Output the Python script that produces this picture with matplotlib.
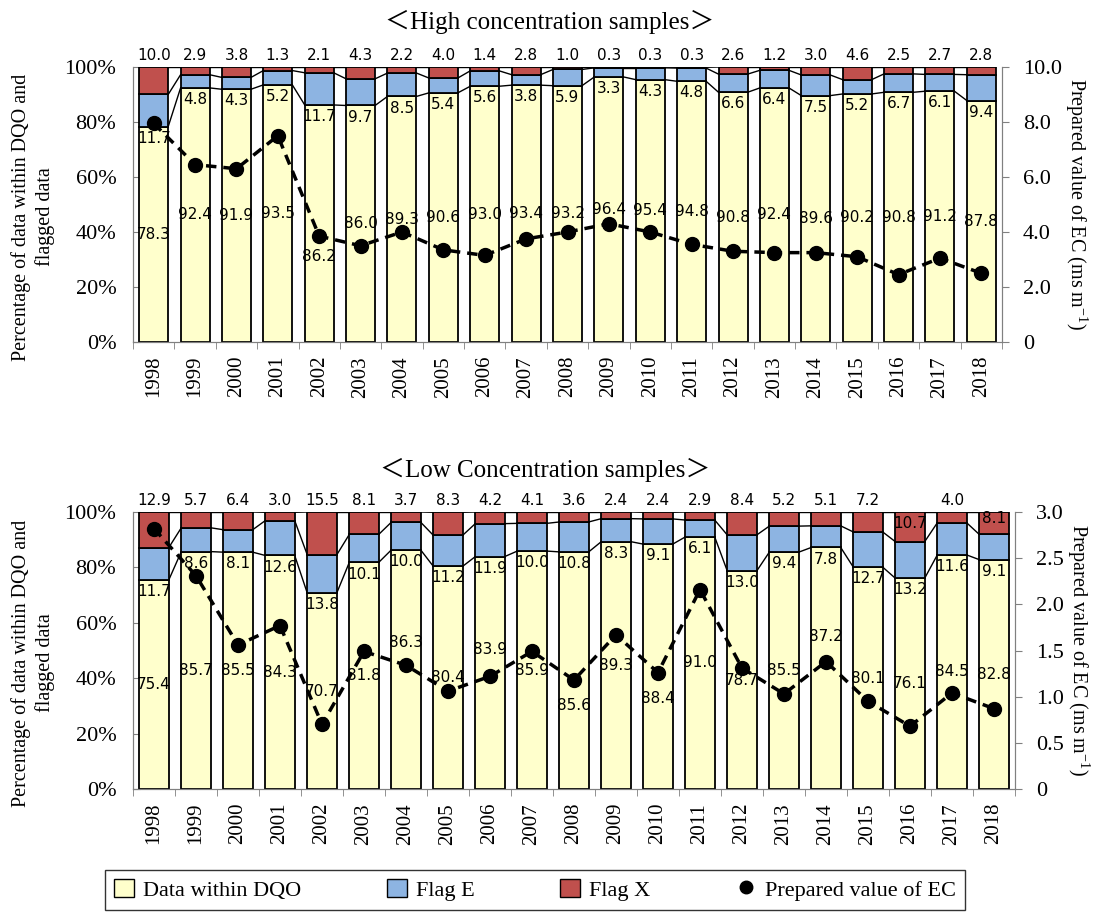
import numpy as np
import matplotlib
matplotlib.use('Agg')
import matplotlib.pyplot as plt
from matplotlib.patches import Patch
from matplotlib.lines import Line2D
from matplotlib.ticker import FuncFormatter, FixedLocator

years = [str(y) for y in range(1998, 2019)]

# High concentration samples (%)
dqo_high = [78.3, 92.4, 91.9, 93.5, 86.2, 86.0, 89.3, 90.6, 93.0, 93.4, 93.2,
            96.4, 95.4, 94.8, 90.8, 92.4, 89.6, 90.2, 90.8, 91.2, 87.8]
flag_e_high = [11.7, 4.8, 4.3, 5.2, 11.7, 9.7, 8.5, 5.4, 5.6, 3.8, 5.9,
               3.3, 4.3, 4.8, 6.6, 6.4, 7.5, 5.2, 6.7, 6.1, 9.4]
flag_x_high = [10.0, 2.9, 3.8, 1.3, 2.1, 4.3, 2.2, 4.0, 1.4, 2.8, 1.0,
               0.3, 0.3, 0.3, 2.6, 1.2, 3.0, 4.6, 2.5, 2.7, 2.8]
ec_high = [7.95, 6.45, 6.3, 7.5, 3.85, 3.5, 4.0, 3.35, 3.15, 3.75, 4.0,
           4.3, 4.0, 3.55, 3.3, 3.25, 3.25, 3.1, 2.45, 3.05, 2.5]

# Low concentration samples (%)
dqo_low = [75.4, 85.7, 85.5, 84.3, 70.7, 81.8, 86.3, 80.4, 83.9, 85.9, 85.6,
           89.3, 88.4, 91.0, 78.7, 85.5, 87.2, 80.1, 76.1, 84.5, 82.8]
flag_e_low = [11.7, 8.6, 8.1, 12.6, 13.8, 10.1, 10.0, 11.2, 11.9, 10.0, 10.8,
              8.3, 9.1, 6.1, 13.0, 9.4, 7.8, 12.7, 13.2, 11.6, 9.1]
flag_x_low = [12.9, 5.7, 6.4, 3.0, 15.5, 8.1, 3.7, 8.3, 4.2, 4.1, 3.6,
              2.4, 2.4, 2.9, 8.4, 5.2, 5.1, 7.2, 10.7, 4.0, 8.1]
ec_low = [2.82, 2.31, 1.56, 1.77, 0.70, 1.49, 1.34, 1.06, 1.22, 1.49, 1.18,
          1.67, 1.26, 2.16, 1.31, 1.03, 1.38, 0.95, 0.68, 1.04, 0.87]

# hand-moved data labels (index -> y in %)
dqo_label_y_high = {4: 31}
dqo_label_y_low = {6: 53, 8: 50.5, 10: 30, 12: 32.5, 16: 55}
x_label_in_low = {18: 96, 20: 97.5}

c_dqo = '#FFFFCC'
c_e = '#8DB4E2'
c_x = '#C0504D'
serif = 'Liberation Serif'
sans = 'DejaVu Sans'

plt.rcParams['font.family'] = serif
plt.rcParams['mathtext.fontset'] = 'stix'


def draw_panel(ax, dqo, fe, fx, ec, ec_max, ec_step, dqo_label_y, x_label_in):
    n = len(years)
    x = np.arange(n)
    w = 0.7
    dqo = np.array(dqo)
    fe = np.array(fe)
    fx = np.array(fx)
    ax.bar(x, dqo, w, color=c_dqo, edgecolor='black', linewidth=1.3, zorder=2)
    ax.bar(x, fe, w, bottom=dqo, color=c_e, edgecolor='black', linewidth=1.3, zorder=2)
    ax.bar(x, fx, w, bottom=dqo + fe, color=c_x, edgecolor='black', linewidth=1.3, zorder=2)

    # series lines between bars
    for tops in (dqo, dqo + fe, np.minimum(dqo + fe + fx, 100)):
        for i in range(n - 1):
            ax.plot([x[i] + w / 2, x[i + 1] - w / 2], [tops[i], tops[i + 1]],
                    color='black', lw=1.0, zorder=1)

    for i in range(n):
        ax.text(x[i], dqo_label_y.get(i, dqo[i] / 2), f'{dqo[i]:.1f}', ha='center',
                va='center', fontsize=11, family=sans, zorder=5)
        ax.annotate(f'{fe[i]:.1f}', (x[i], dqo[i]), xytext=(0, -3),
                    textcoords='offset points', ha='center', va='top',
                    fontsize=11, family=sans, zorder=5)
        if i in x_label_in:
            ax.text(x[i], x_label_in[i], f'{fx[i]:.1f}', ha='center', va='center',
                    fontsize=11, family=sans, zorder=5)
        else:
            ax.annotate(f'{fx[i]:.1f}', (x[i], 100), xytext=(0, 3),
                        textcoords='offset points', ha='center', va='bottom',
                        fontsize=11, family=sans, zorder=5)

    ax.set_xlim(-0.5, n - 0.5)
    ax.set_ylim(0, 100)
    ax.set_yticks(np.arange(0, 101, 20))
    ax.yaxis.set_major_formatter(FuncFormatter(lambda v, p: f'{v:.0f}%'))
    ax.tick_params(axis='y', direction='in', length=5, pad=12, labelsize=16,
                   color='#808080')
    ax.set_xticks(x)
    ax.set_xticklabels(years, rotation=90, fontsize=15)
    ax.tick_params(axis='x', which='major', length=0, pad=10)
    ax.xaxis.set_minor_locator(FixedLocator(np.arange(-0.5, n, 1)))
    ax.tick_params(axis='x', which='minor', direction='out', length=5,
                   color='#808080')
    ax.spines['top'].set_visible(False)
    for s in ('left', 'bottom', 'right'):
        ax.spines[s].set_color('#808080')

    ax2 = ax.twinx()
    ax2.plot(x, ec, color='black', lw=2.5, linestyle=(0, (3, 2)), marker='o',
             markersize=10, zorder=6)
    ax2.set_ylim(0, ec_max)
    ax2.set_yticks(np.arange(0, ec_max + 1e-9, ec_step))
    ax2.yaxis.set_major_formatter(FuncFormatter(lambda v, p: '0' if v == 0 else f'{v:.1f}'))
    ax2.tick_params(axis='y', direction='out', length=5, pad=10, labelsize=16,
                    color='#808080')
    ax2.spines['top'].set_visible(False)
    for s in ('left', 'bottom', 'right'):
        ax2.spines[s].set_color('#808080')
    ax2.set_ylabel('Prepared value of EC (ms m$^{\\mathregular{-1}}$)', rotation=270,
                   fontsize=14.5, labelpad=20)
    return ax2


fig = plt.figure(figsize=(10.94, 9.13), dpi=100)
ax_high = fig.add_axes([133 / 1094, 1 - 342 / 913, (1002 - 133) / 1094, 275 / 913])
ax_low = fig.add_axes([133 / 1094, 1 - 789 / 913, (1015 - 133) / 1094, 277 / 913])

draw_panel(ax_high, dqo_high, flag_e_high, flag_x_high, ec_high, 10.0, 2.0,
           dqo_label_y_high, {})
draw_panel(ax_low, dqo_low, flag_e_low, flag_x_low, ec_low, 3.0, 0.5,
           dqo_label_y_low, x_label_in_low)

title_family = [serif, 'Noto Sans CJK JP']
fig.text(550 / 1094, 1 - 22 / 913, '＜High concentration samples＞', ha='center',
         va='center', fontsize=18, family=title_family)
fig.text(545 / 1094, 1 - 470 / 913, '＜Low Concentration samples＞', ha='center',
         va='center', fontsize=18, family=title_family)

ylab = 'Percentage of data within DQO and\nflagged data'
fig.text(33 / 1094, 1 - 217 / 913, ylab, rotation=90, ha='center', va='center',
         fontsize=14.5, multialignment='center', linespacing=1.3)
fig.text(33 / 1094, 1 - 663 / 913, ylab, rotation=90, ha='center', va='center',
         fontsize=14.5, multialignment='center', linespacing=1.3)

handles = [Patch(facecolor=c_dqo, edgecolor='black'),
           Patch(facecolor=c_e, edgecolor='black'),
           Patch(facecolor=c_x, edgecolor='black'),
           Line2D([], [], color='black', marker='o', linestyle='none', markersize=9)]
labels = ['Data within DQO', 'Flag E', 'Flag X', 'Prepared value of EC']
leg = fig.legend(handles, labels, loc='upper left', ncol=4, mode='expand',
                 bbox_to_anchor=(105 / 1094, -0.02, 860 / 1094, 1 - 870 / 913 + 0.02),
                 fontsize=16, frameon=True, fancybox=False, edgecolor='black',
                 handlelength=0.9, handleheight=0.9, handletextpad=0.4,
                 borderaxespad=0.0)
leg.get_frame().set_linewidth(1.0)

fig.savefig('out.png', dpi=100)
